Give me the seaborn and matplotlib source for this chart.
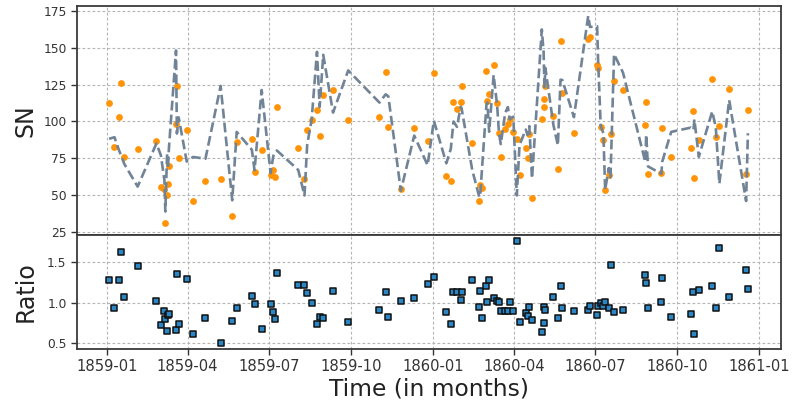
import matplotlib
matplotlib.use("Agg")
import matplotlib.pyplot as plt
import matplotlib.dates as mdates
import seaborn as sns
import pandas as pd

dates = ["1859-01-03","1859-01-09","1859-01-14","1859-01-16","1859-01-20","1859-02-04","1859-02-25","1859-03-02","1859-03-06","1859-03-07",
         "1859-03-09","1859-03-10","1859-03-11","1859-03-19","1859-03-20","1859-03-22","1859-03-31","1859-04-07","1859-04-21","1859-05-08",
         "1859-05-21","1859-05-26","1859-06-12","1859-06-15","1859-06-23","1859-07-03","1859-07-06","1859-07-08","1859-07-10","1859-08-03",
         "1859-08-10","1859-08-13","1859-08-18","1859-08-24","1859-08-27","1859-08-31","1859-09-11","1859-09-28","1859-11-02","1859-11-09",
         "1859-11-12","1859-11-26","1859-12-11","1859-12-26","1860-01-02","1860-01-16","1860-01-21","1860-01-24","1860-01-28","1860-02-01",
         "1860-02-02","1860-02-14","1860-02-22","1860-02-23","1860-02-25","1860-03-01","1860-03-02","1860-03-04","1860-03-09","1860-03-13",
         "1860-03-15","1860-03-17","1860-03-22","1860-03-25","1860-03-27","1860-03-31","1860-04-04","1860-04-07","1860-04-14","1860-04-16",
         "1860-04-18","1860-04-21","1860-05-02","1860-05-04","1860-05-05","1860-05-06","1860-05-15","1860-05-20","1860-05-23","1860-05-25",
         "1860-06-07","1860-06-23","1860-06-25","1860-07-03","1860-07-04","1860-07-07","1860-07-10","1860-07-12","1860-07-16","1860-07-18",
         "1860-07-22","1860-08-01","1860-08-26","1860-08-27","1860-08-29","1860-09-13","1860-09-14","1860-09-24","1860-10-16","1860-10-19",
         "1860-10-20","1860-10-25","1860-11-09","1860-11-13","1860-11-17","1860-11-28","1860-12-17","1860-12-19"]

sn = [112.6, 82.7, 102.9, 126.1, 75.9, 81.1, 86.7, 55.2, 54.0, 30.9,
      50.2, 57.7, 70.0, 98.2, 123.9, 75.2, 94.4, 46.2, 59.9, 60.8,
      36.0, 86.0, 87.8, 65.5, 80.9, 64.0, 67.0, 62.5, 109.7, 82.0,
      60.8, 94.4, 101.1, 107.9, 89.9, 117.6, 121.4, 101.1, 103.0, 133.6,
      96.2, 54.1, 95.3, 86.7, 132.9, 62.8, 59.7, 113.5, 108.6, 113.5,
      124.1, 85.6, 46.0, 56.8, 55.0, 134.5, 114.2, 118.7, 138.5, 112.6,
      92.3, 75.9, 95.0, 98.4, 101.8, 92.6, 88.3, 63.5, 82.0, 75.2,
      91.2, 48.2, 101.8, 109.7, 115.3, 123.9, 104.0, 67.6, 154.7, 119.1,
      92.3, 156.0, 157.4, 138.3, 136.0, 96.2, 87.6, 53.8, 63.5, 91.4,
      127.7, 121.0, 97.3, 113.5, 64.6, 65.3, 95.3, 76.1, 82.0, 107.0,
      61.7, 87.6, 128.8, 89.4, 97.1, 122.1, 64.6, 107.9]

pred = [88.2, 89.3, 80.6, 77.6, 71.2, 55.8, 85.0, 77.1, 60.2, 38.9,
        78.2, 68.0, 81.4, 148.1, 91.8, 102.7, 72.8, 75.9, 74.7, 124.1,
        46.5, 92.9, 80.8, 66.9, 121.3, 65.0, 76.4, 79.1, 80.3, 67.1,
        49.8, 84.1, 101.1, 147.2, 109.8, 145.2, 106.0, 134.6, 112.8, 118.4,
        117.0, 53.0, 90.4, 70.3, 100.5, 71.6, 81.4, 99.9, 96.3, 109.9,
        109.2, 67.1, 48.6, 49.8, 68.2, 111.5, 112.8, 93.0, 131.5, 110.4,
        91.9, 84.6, 105.9, 109.7, 101.4, 103.2, 49.8, 83.9, 94.5, 90.9,
        96.8, 61.3, 162.4, 147.2, 122.4, 136.3, 97.6, 83.8, 128.3, 128.1,
        102.9, 171.6, 164.1, 164.6, 143.0, 97.0, 92.1, 53.6, 68.3, 62.1,
        145.6, 133.1, 72.5, 91.0, 69.5, 64.5, 72.8, 92.9, 95.8, 94.2,
        101.3, 76.0, 106.8, 96.1, 57.8, 114.5, 46.0, 92.0]

ratio = [1.276, 0.926, 1.276, 1.626, 1.066, 1.453, 1.02, 0.716, 0.897, 0.794,
         0.642, 0.848, 0.86, 0.663, 1.35, 0.732, 1.296, 0.609, 0.802, 0.49,
         0.774, 0.926, 1.086, 0.979, 0.667, 0.984, 0.877, 0.79, 1.366, 1.222,
         1.222, 1.123, 1.0, 0.733, 0.819, 0.81, 1.145, 0.751, 0.913, 1.128,
         0.822, 1.021, 1.054, 1.233, 1.323, 0.877, 0.733, 1.136, 1.128, 1.033,
         1.136, 1.276, 0.946, 1.141, 0.807, 1.206, 1.012, 1.276, 1.053, 1.02,
         1.004, 0.897, 0.897, 0.897, 1.004, 0.897, 1.772, 0.757, 0.868, 0.827,
         0.942, 0.786, 0.627, 0.745, 0.942, 0.909, 1.066, 0.807, 1.206, 0.93,
         0.897, 0.909, 0.959, 0.84, 0.951, 0.992, 0.951, 1.004, 0.93, 1.473,
         0.877, 0.909, 1.342, 1.247, 0.93, 1.012, 1.309, 0.819, 0.856, 1.136,
         0.609, 1.152, 1.206, 0.93, 1.679, 1.066, 1.403, 1.173]

yticks_top = [25, 50, 75, 100, 125, 150, 175]
yticks_bot = [0.5, 1.0, 1.5]

sns.set_style("ticks")
plt.rcParams["font.family"] = ["DejaVu Sans"]

df = pd.DataFrame({"date": pd.to_datetime(dates), "sn": sn, "pred": pred, "ratio": ratio})

fig = plt.figure(figsize=(7.92, 4.08), dpi=100)
gs = fig.add_gridspec(2, 1, height_ratios=[230, 114], hspace=0,
                      left=0.0972, right=0.986, top=0.986, bottom=0.1446)
ax1 = fig.add_subplot(gs[0])
ax2 = fig.add_subplot(gs[1], sharex=ax1)

sns.scatterplot(data=df, x="date", y="sn", ax=ax1, color="#ff9408", s=24,
                linewidth=0, zorder=2)
sns.lineplot(data=df, x="date", y="pred", ax=ax1, color="#718396", lw=1.9,
             linestyle="--", estimator=None, zorder=3)
sns.scatterplot(data=df, x="date", y="ratio", ax=ax2, marker="s", color="#2a86c4",
                edgecolor="#111111", linewidth=1.1, s=18, zorder=3)

grid_kw = dict(color="#b4b4b4", linestyle=(0, (2.5, 2)), linewidth=0.8)
for ax in (ax1, ax2):
    ax.grid(True, **grid_kw)
    ax.set_axisbelow(True)
    for sp in ax.spines.values():
        sp.set_visible(True)
        sp.set_color("#3a3a3a")
        sp.set_linewidth(1.3)
    ax.tick_params(axis="y", labelsize=8.8, colors="#333333", length=4, width=1)

ax1.set_ylim(22.8, 178.5)
ax1.set_yticks(yticks_top)
ax2.set_ylim(0.42, 1.84)
ax2.set_yticks(yticks_bot)
ax2.set_xlim(pd.Timestamp("1858-11-28"), pd.Timestamp("1861-01-25"))

ax2.xaxis.set_major_locator(mdates.MonthLocator(bymonth=[1, 4, 7, 10]))
ax2.xaxis.set_major_formatter(mdates.DateFormatter("%Y-%m"))
ax1.tick_params(axis="x", labelbottom=False, bottom=False)
ax2.tick_params(axis="x", labelsize=10.6, colors="#333333", length=4, width=1)

ax1.set_xlabel("")
ax1.set_ylabel("SN", fontsize=17, color="#222222")
ax2.set_ylabel("Ratio", fontsize=17, color="#222222")
ax2.set_xlabel("Time (in months)", fontsize=16.8, color="#222222", labelpad=2)
ax1.yaxis.set_label_coords(-0.0564, 0.5)
ax2.yaxis.set_label_coords(-0.0564, 0.5)

fig.savefig("out.png", dpi=100)
